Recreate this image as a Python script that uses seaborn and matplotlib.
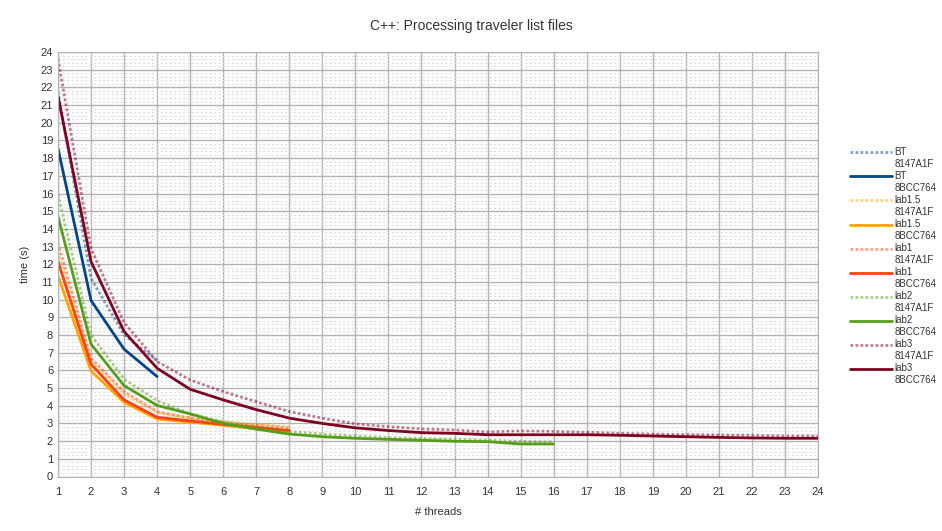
import numpy as np
import matplotlib
matplotlib.use("Agg")
import matplotlib.pyplot as plt
from matplotlib.ticker import MultipleLocator
import pandas as pd
import seaborn as sns

# series: (lab, commit) -> times for 1..n threads
bt_8147 = [21.75, 11.2, 8.0, 6.55]
bt_8bcc = [18.55, 9.95, 7.2, 5.65]
lab15_8147 = [12.7, 6.5, 4.67, 3.6, 3.3, 3.1, 2.95, 2.8]
lab15_8bcc = [11.35, 5.97, 4.2, 3.25, 3.07, 2.9, 2.7, 2.48]
lab1_8147 = [13.2, 6.69, 4.8, 3.67, 3.3, 3.05, 2.9, 2.75]
lab1_8bcc = [12.15, 6.35, 4.33, 3.35, 3.14, 2.95, 2.78, 2.6]
lab2_8147 = [15.95, 8.0, 5.5, 4.29, 3.54, 3.1, 2.8, 2.55, 2.4, 2.29, 2.2, 2.16, 2.12,
             2.05, 1.99, 1.95]
lab2_8bcc = [14.7, 7.48, 5.14, 4.02, 3.54, 3.0, 2.68, 2.4, 2.25, 2.16, 2.1, 2.05, 1.99,
             1.97, 1.84, 1.84]
lab3_8147 = [23.6, 12.9, 8.7, 6.5, 5.46, 4.8, 4.23, 3.67, 3.3, 2.97, 2.82, 2.69, 2.63,
             2.52, 2.58, 2.55, 2.5, 2.44, 2.4, 2.37, 2.35, 2.33, 2.29, 2.29]
lab3_8bcc = [21.5, 12.15, 8.2, 6.12, 4.93, 4.33, 3.78, 3.3, 3.0, 2.75, 2.6, 2.48, 2.44,
             2.36, 2.36, 2.36, 2.36, 2.33, 2.29, 2.25, 2.21, 2.18, 2.16, 2.16]

labs = ["BT", "lab1.5", "lab1", "lab2", "lab3"]
lab_colors = ["#004586", "#ffa500", "#ff420e", "#579d1c", "#7e0021"]
commits = ["8147A1F", "8BCC764"]
series = {
    ("BT", "8147A1F"): bt_8147, ("BT", "8BCC764"): bt_8bcc,
    ("lab1.5", "8147A1F"): lab15_8147, ("lab1.5", "8BCC764"): lab15_8bcc,
    ("lab1", "8147A1F"): lab1_8147, ("lab1", "8BCC764"): lab1_8bcc,
    ("lab2", "8147A1F"): lab2_8147, ("lab2", "8BCC764"): lab2_8bcc,
    ("lab3", "8147A1F"): lab3_8147, ("lab3", "8BCC764"): lab3_8bcc,
}

rows = []
for (lab, commit), vals in series.items():
    for i, v in enumerate(vals):
        rows.append([lab, commit, i + 1, v])
df = pd.DataFrame(rows, columns=["lab", "commit", "threads", "time"])

sns.set_style("white")
plt.rcParams["font.family"] = ["Liberation Sans", "DejaVu Sans"]

fig = plt.figure(figsize=(9.42, 5.31), dpi=100)
ax = fig.add_axes([58 / 942, 1 - 476.5 / 531, (818 - 58) / 942, (476.5 - 52) / 531])

for lab, color in zip(labs, lab_colors):
    for commit in commits:
        sub = df[(df["lab"] == lab) & (df["commit"] == commit)]
        dotted = commit == "8147A1F"
        sns.lineplot(data=sub, x="threads", y="time", ax=ax, color=color,
                     linewidth=2.0, linestyle=(0, (1, 0.8)) if dotted else "-",
                     alpha=0.5 if dotted else 1.0,
                     label=f"{lab}\n{commit}", legend=False)

ax.set_xlim(1, 24)
ax.set_ylim(0, 24)
ax.xaxis.set_major_locator(MultipleLocator(1))
ax.yaxis.set_major_locator(MultipleLocator(1))
ax.yaxis.set_minor_locator(MultipleLocator(0.2))
ax.grid(which="major", color="#b3b3b3", linewidth=1.0)
ax.grid(which="minor", axis="y", color="#dddddd", linewidth=0.8, linestyle=(0, (2, 2)))
ax.set_axisbelow(True)
for s in ax.spines.values():
    s.set_color("#b3b3b3")
ax.tick_params(axis="both", which="major", labelsize=8, length=4, color="#b3b3b3",
               labelcolor="#333333")
ax.tick_params(axis="y", which="major", length=0)
ax.tick_params(which="minor", length=0)

ax.set_xlabel("# threads", fontsize=8, color="#333333", labelpad=7)
ax.set_ylabel("time (s)", fontsize=8, color="#333333", labelpad=8)
fig.suptitle("C++: Processing traveler list files", fontsize=10, color="#333333", y=0.965)

handles, labels_ = ax.get_legend_handles_labels()
leg = fig.legend(handles, labels_, loc="upper left", bbox_to_anchor=(850 / 942, 1 - 147 / 531),
                 frameon=False, fontsize=7, handlelength=4.3, handletextpad=0.3,
                 labelspacing=0.25, borderpad=0, borderaxespad=0, labelcolor="#333333")
# put each legend line next to the first line of its two-line label
for line in leg.get_lines():
    line.set_ydata(np.asarray(line.get_ydata()) + 4.3)

fig.savefig("out.png", dpi=100)
